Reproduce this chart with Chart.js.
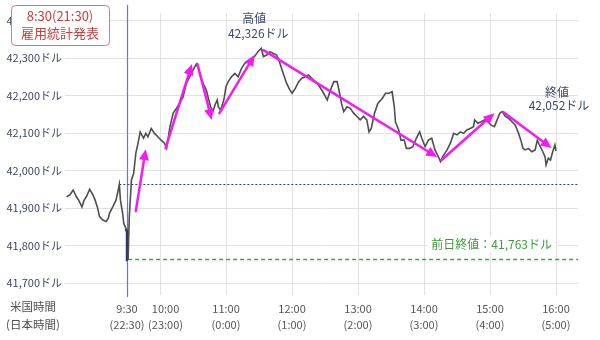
<!DOCTYPE html>
<html>
<head>
<meta charset="utf-8">
<script src="https://cdn.jsdelivr.net/npm/chart.js@4"></script>
<style>
  html, body { margin: 0; background: #fff; }
</style>
</head>
<body>
<canvas id="myChart" width="600" height="340"></canvas>
<script>
// price line, NY time
const times = [
  '8:35','8:38','8:41','8:44','8:46','8:49','8:51','8:53','8:56','8:59',
  '9:01','9:03','9:05','9:08','9:11','9:13','9:14','9:17','9:20','9:22',
  '9:23','9:24','9:26','9:27','9:29','9:30','9:30','9:31','9:32','9:34',
  '9:36','9:38','9:40','9:42','9:45','9:47','9:49','9:52','9:55','9:58',
  '10:01','10:04','10:06','10:09','10:12','10:15','10:18','10:21','10:24','10:27',
  '10:30','10:33','10:35','10:37','10:39','10:42','10:44','10:46','10:48','10:50',
  '10:52','10:53','10:55','10:58','11:00','11:02','11:05','11:08','11:11','11:14',
  '11:17','11:20','11:23','11:26','11:29','11:32','11:34','11:37','11:40','11:43',
  '11:46','11:48','11:51','11:53','11:55','11:58','12:00','12:03','12:06','12:09',
  '12:12','12:15','12:18','12:21','12:24','12:28','12:32','12:35','12:38','12:41',
  '12:43','12:45','12:47','12:50','12:53','12:56','12:59','13:02','13:05','13:08',
  '13:10','13:12','13:15','13:18','13:22','13:25','13:28','13:31','13:33','13:34',
  '13:37','13:39','13:42','13:44','13:47','13:50','13:53','13:56','13:58','14:01',
  '14:04','14:07','14:10','14:13','14:15','14:17','14:21','14:24','14:27','14:30',
  '14:33','14:36','14:39','14:42','14:45','14:46','14:49','14:52','14:55','14:58',
  '15:01','15:04','15:07','15:09','15:11','15:14','15:17','15:20','15:23','15:26',
  '15:28','15:30','15:32','15:35','15:38','15:41','15:43','15:45','15:48','15:50',
  '15:51','15:53','15:55','15:57','15:59','16:00'
];
const prices = [
  41930,41935,41948,41930,41921,41903,41921,41930,41950,41935,
  41921,41903,41877,41868,41864,41873,41886,41903,41921,41948,
  41963,41921,41886,41859,41845,41835,41763,41765,41873,41975,
  41992,42046,42073,42103,42086,42099,42090,42112,42099,42090,
  42081,42073,42059,42117,42153,42166,42180,42197,42233,42250,
  42268,42284,42272,42250,42233,42215,42192,42170,42157,42175,
  42188,42170,42161,42188,42224,42237,42250,42259,42250,42272,
  42286,42290,42299,42304,42317,42326,42304,42308,42317,42312,
  42308,42295,42268,42250,42233,42215,42206,42219,42237,42246,
  42250,42255,42246,42237,42228,42210,42188,42215,42237,42237,
  42210,42179,42157,42170,42166,42153,42144,42135,42144,42135,
  42103,42112,42153,42179,42192,42206,42206,42210,42170,42130,
  42108,42081,42081,42059,42059,42064,42086,42103,42086,42064,
  42081,42086,42055,42037,42024,42037,42055,42073,42099,42095,
  42103,42099,42108,42112,42117,42135,42126,42130,42135,42130,
  42121,42117,42139,42153,42157,42144,42139,42130,42121,42099,
  42081,42059,42055,42059,42050,42055,42081,42068,42050,42037,
  42015,42033,42028,42050,42068,42052
];

const xTicks = ['9:30','10:00','11:00','12:00','13:00','14:00','15:00','16:00'];
const jpTicks = ['22:30','23:00','0:00','1:00','2:00','3:00','4:00','5:00'];
const yTicks = [41700, 41800, 41900, 42000, 42100, 42200, 42300, 42400];

const openTime = '9:30';
const prevClose = 41763;
const preHigh = 41965;
const preHighTime = '9:23';
const dayHigh = 42326;
const dayHighTime = '11:32';
const closePrice = 42052;
const closeTime = '16:00';

// trend arrows: [from time, from value, to time, to value]
const arrows = [
  ['9:38', 41892, '9:47', 42057],
  ['10:05', 42060, '10:29', 42284],
  ['10:34', 42284, '10:47', 42135],
  ['10:54', 42153, '11:26', 42308],
  ['11:34', 42321, '14:12', 42036],
  ['14:16', 42028, '15:04', 42153],
  ['15:12', 42156, '15:56', 42060]
];

const toMin = t => { const [h, m] = t.split(':').map(Number); return h * 60 + m; };
const fmt = v => v.toLocaleString('en-US') + 'ドル';
const FONT = '"Noto Sans CJK JP", "Noto Sans", sans-serif';

const points = times.map((t, i) => ({ x: toMin(t), y: prices[i] }));

function drawArrow(ctx, x1, y1, x2, y2) {
  const a = Math.atan2(y2 - y1, x2 - x1);
  const L = 11, W = 5;
  const c = Math.cos(a), s = Math.sin(a);
  ctx.beginPath();
  ctx.moveTo(x1, y1);
  ctx.lineTo(x2 - L * c * 0.7, y2 - L * s * 0.7);
  ctx.stroke();
  ctx.beginPath();
  ctx.moveTo(x2, y2);
  ctx.lineTo(x2 - L * c + W * s, y2 - L * s - W * c);
  ctx.lineTo(x2 - L * c - W * s, y2 - L * s + W * c);
  ctx.closePath();
  ctx.fill();
}

const annotate = {
  id: 'annotate',
  beforeDatasetsDraw(chart) {
    const { ctx, chartArea: ca, scales: { x, y } } = chart;
    ctx.save();
    // open line
    const ox = Math.round(x.getPixelForValue(toMin(openTime))) + 0.5;
    ctx.strokeStyle = '#6470ff';
    ctx.lineWidth = 1.2;
    ctx.beginPath();
    ctx.moveTo(ox, 5);
    ctx.lineTo(ox, 297);
    ctx.stroke();
    // pre-open high level
    ctx.strokeStyle = '#2e3d70';
    ctx.lineWidth = 1;
    ctx.setLineDash([2, 2]);
    const hy = Math.round(y.getPixelForValue(preHigh)) + 0.5;
    ctx.beginPath();
    ctx.moveTo(x.getPixelForValue(toMin(preHighTime)), hy);
    ctx.lineTo(ca.right, hy);
    ctx.stroke();
    // previous close
    ctx.strokeStyle = '#3aaa35';
    ctx.lineWidth = 1.5;
    ctx.setLineDash([4, 3]);
    const py = Math.round(y.getPixelForValue(prevClose)) + 0.5;
    ctx.beginPath();
    ctx.moveTo(x.getPixelForValue(toMin('9:31')), py);
    ctx.lineTo(ca.right, py);
    ctx.stroke();
    ctx.setLineDash([]);
    // label for previous close
    ctx.font = '12px ' + FONT;
    const txt = '前日終値：' + fmt(prevClose);
    const tw = ctx.measureText(txt).width;
    const tx = 552 - tw;
    ctx.fillStyle = '#fff';
    ctx.fillRect(tx - 4, py - 23, tw + 8, 16);
    ctx.fillStyle = '#3f9a3a';
    ctx.textBaseline = 'middle';
    ctx.textAlign = 'left';
    ctx.fillText(txt, tx, py - 15);
    ctx.restore();
  },
  afterDatasetsDraw(chart) {
    const { ctx, scales: { x, y } } = chart;
    ctx.save();
    ctx.strokeStyle = '#f01cf0';
    ctx.fillStyle = '#f01cf0';
    ctx.lineWidth = 2.5;
    ctx.lineCap = 'round';
    arrows.forEach(([t1, v1, t2, v2]) => {
      drawArrow(ctx,
        x.getPixelForValue(toMin(t1)), y.getPixelForValue(v1),
        x.getPixelForValue(toMin(t2)), y.getPixelForValue(v2));
    });
    ctx.textAlign = 'center';
    ctx.textBaseline = 'middle';
    ctx.fillStyle = '#3d4a6b';
    ctx.font = '12px ' + FONT;
    const hx = x.getPixelForValue(toMin(dayHighTime));
    const hy = y.getPixelForValue(dayHigh);
    ctx.fillText('高値', hx - 7, hy - 30);
    ctx.fillText(fmt(dayHigh), hx - 3, hy - 15);
    const cx = x.getPixelForValue(toMin(closeTime));
    const cy = y.getPixelForValue(closePrice);
    ctx.fillText('終値', cx + 1, cy - 59);
    ctx.fillText(fmt(closePrice), cx + 3, cy - 46);
    ctx.restore();
  },
  afterDraw(chart) {
    const { ctx } = chart;
    ctx.save();
    // release box
    ctx.fillStyle = '#fff';
    ctx.strokeStyle = '#d9797b';
    ctx.lineWidth = 1;
    ctx.beginPath();
    ctx.roundRect(11.5, 5.5, 98, 40, 4);
    ctx.fill();
    ctx.stroke();
    ctx.fillStyle = '#c9403c';
    ctx.textAlign = 'center';
    ctx.textBaseline = 'middle';
    ctx.font = '13px ' + FONT;
    ctx.fillText('8:30(21:30)', 60, 16);
    ctx.fillText('雇用統計発表', 60, 33);
    // axis caption
    ctx.fillStyle = '#505050';
    ctx.font = '11.5px ' + FONT;
    ctx.fillText('米国時間', 33, 307);
    ctx.fillText('(日本時間)', 33, 325);
    ctx.restore();
  }
};

const ctx = document.getElementById('myChart').getContext('2d');
new Chart(ctx, {
  type: 'line',
  data: {
    datasets: [{
      data: points,
      borderColor: '#4d4f4d',
      borderWidth: 1.6,
      pointRadius: 0,
      tension: 0,
      segment: {
        borderColor: c => (c.p0.parsed.x >= toMin('9:29') && c.p1.parsed.x <= toMin('9:31')) ? '#2c3560' : undefined,
        borderWidth: c => (c.p0.parsed.x >= toMin('9:29') && c.p1.parsed.x <= toMin('9:31')) ? 2.5 : undefined
      }
    }]
  },
  options: {
    responsive: false,
    animation: false,
    layout: { padding: { left: 0, right: 22, top: 13.4, bottom: 0 } },
    plugins: { legend: { display: false }, tooltip: { enabled: false } },
    scales: {
      x: {
        type: 'linear',
        min: 513.6,
        max: 980,
        afterBuildTicks: s => { s.ticks = xTicks.map(t => ({ value: toMin(t) })); },
        afterFit: s => { s.height = 45; },
        border: { display: false },
        grid: { color: '#e2e2e2', drawTicks: false },
        ticks: {
          autoSkip: false,
          maxRotation: 0,
          padding: 6,
          color: '#555',
          font: { family: FONT, size: 11, lineHeight: 1.45 },
          callback: (v, i) => [(i === 1 ? '\u2002\u2002' : '') + xTicks[i], (i === 1 ? '\u2002\u2002' : '') + '(' + jpTicks[i] + ')']
        }
      },
      y: {
        min: 41668,
        max: 42419,
        afterBuildTicks: s => { s.ticks = yTicks.map(v => ({ value: v })); },
        afterFit: s => { s.width = 65; },
        border: { display: false },
        grid: { color: '#e2e2e2', drawTicks: false },
        ticks: {
          padding: 3,
          color: '#3e4760',
          font: { family: FONT, size: 11 },
          callback: v => fmt(v)
        }
      }
    }
  },
  plugins: [annotate]
});
</script>
</body>
</html>
